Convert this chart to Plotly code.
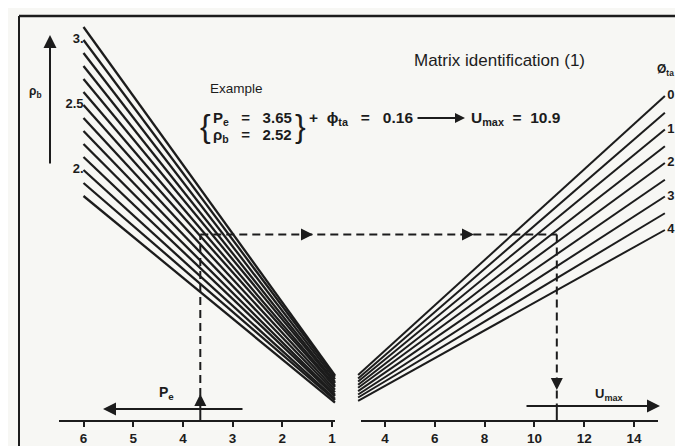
import plotly.graph_objects as go

W, H = 683, 446

# ---------------- data ----------------
rho_b_values = [3.1, 3.0, 2.9, 2.8, 2.7, 2.6, 2.5, 2.4, 2.3, 2.2, 2.1, 2.0, 1.9, 1.8]
rho_b_tip = [0.42, 0.41, 0.39, 0.37, 0.36, 0.34, 0.33, 0.31, 0.29, 0.27, 0.26, 0.24, 0.23, 0.21]
pe_fan_start = 6.0
pe_fan_end = 0.94

phi_ta_values = [0, 0.5, 1, 1.5, 2, 2.5, 3, 3.5, 4]
phi_ta_tip = [8.33, 8.43, 8.52, 8.62, 8.71, 8.81, 8.91, 9.00, 9.10]
u_fan_start = 2.92
u_fan_end = 15.24

pe_ticks = [1, 2, 3, 4, 5, 6]
u_ticks = [4, 6, 8, 10, 12, 14]
rho_b_label_vals = [3.0, 2.5, 2.0]
rho_b_label_text = ["3.", "2.5", "2."]
phi_label_vals = [0, 1, 2, 3, 4]

example_pe = 3.65
example_rho_b = 2.52
example_phi = 0.16
example_umax = 10.9

# ---------------- scale calibration (pixels) ----------------
PE1_PX, PE_PPU = 324.0, 49.7     # x pixel of Pe=1, px per unit (to the left)
U4_PX, U_PPU = 377.0, 24.9       # x pixel of Umax=4, px per unit
RB3_PX, RB_PPU = 32.0, 130.0     # y pixel of rho_b=3, px per unit (upwards)
PH0_PX, PH_PPU = 88.0, 33.5      # y pixel of phi=0, px per unit (downwards)
AXIS_PX = 413.0

pe_range = [1 + PE1_PX / PE_PPU, 1 - (W - PE1_PX) / PE_PPU]
u_range = [4 - U4_PX / U_PPU, 4 + (W - U4_PX) / U_PPU]
rb_range = [3 - (H - RB3_PX) / RB_PPU, 3 + RB3_PX / RB_PPU]
ph_range = [(H - PH0_PX) / PH_PPU, -PH0_PX / PH_PPU]


def pe_px(v):
    return PE1_PX - (v - 1) * PE_PPU


def px_pe(px):
    return 1 + (PE1_PX - px) / PE_PPU


def px_u(px):
    return 4 + (px - U4_PX) / U_PPU


def py_rb(py):
    return 3 - (py - RB3_PX) / RB_PPU


def py_ph(py):
    return (py - PH0_PX) / PH_PPU


INK = "#1c1c1c"
BG = "#f7f7f4"
FONT = "Liberation Sans"
NB = "\u00a0"

fig = go.Figure()

# ---------------- left fan (rho_b) ----------------
for r, tip in zip(rho_b_values, rho_b_tip):
    fig.add_trace(go.Scatter(x=[pe_fan_start, pe_fan_end], y=[r, tip], mode="lines",
                             line=dict(color=INK, width=2.3), xaxis="x", yaxis="y",
                             hoverinfo="skip", showlegend=False))

# ---------------- right fan (phi_ta) ----------------
for p, tip in zip(phi_ta_values, phi_ta_tip):
    fig.add_trace(go.Scatter(x=[u_fan_start, u_fan_end], y=[tip, p], mode="lines",
                             line=dict(color=INK, width=2.0), xaxis="x2", yaxis="y2",
                             hoverinfo="skip", showlegend=False))

# ---------------- example guide (dashed) ----------------
t = (pe_fan_start - example_pe) / (pe_fan_start - pe_fan_end)
lvl = [r + t * (tip - r) for r, tip in zip(rho_b_values, rho_b_tip)]
guide_y = lvl[0]
for i in range(len(rho_b_values) - 1):
    r_hi, r_lo = rho_b_values[i], rho_b_values[i + 1]
    if r_lo <= example_rho_b <= r_hi:
        f = (example_rho_b - r_lo) / (r_hi - r_lo)
        guide_y = lvl[i + 1] + f * (lvl[i] - lvl[i + 1])
        break

axis_y = py_rb(AXIS_PX)
arrowline_y = py_rb(401)
u_arrowline_y = py_rb(398)
u_from_pe = px_u(pe_px(example_pe))
dash = "8px,5px"


def seg(xs, ys, xa, ya, dashed=True):
    fig.add_trace(go.Scatter(x=xs, y=ys, mode="lines",
                             line=dict(color=INK, width=2, dash=dash if dashed else "solid"),
                             xaxis=xa, yaxis=ya, hoverinfo="skip", showlegend=False))


seg([example_pe, example_pe], [arrowline_y, guide_y], "x", "y")
seg([example_pe, example_pe], [axis_y, arrowline_y], "x", "y", dashed=False)
seg([u_from_pe, example_umax], [guide_y, guide_y], "x2", "y")
seg([example_umax, example_umax], [guide_y, u_arrowline_y], "x2", "y")
seg([example_umax, example_umax], [u_arrowline_y, axis_y], "x2", "y", dashed=False)

# ---------------- scale labels ----------------
fig.add_trace(go.Scatter(x=[pe_fan_start] * len(rho_b_label_vals), y=rho_b_label_vals,
                         mode="text", text=rho_b_label_text, textposition="middle left",
                         textfont=dict(family=FONT, size=13, color=INK, weight="bold"),
                         xaxis="x", yaxis="y", hoverinfo="skip", showlegend=False))
fig.add_trace(go.Scatter(x=[u_fan_end + 0.1] * len(phi_label_vals), y=phi_label_vals,
                         mode="text", text=[str(v) for v in phi_label_vals],
                         textposition="middle right",
                         textfont=dict(family=FONT, size=13, color=INK, weight="bold"),
                         xaxis="x2", yaxis="y2", hoverinfo="skip", showlegend=False))

# dummy traces so the bottom scales render
fig.add_trace(go.Scatter(x=[None], y=[None], xaxis="x3", yaxis="y", showlegend=False, hoverinfo="skip"))
fig.add_trace(go.Scatter(x=[None], y=[None], xaxis="x4", yaxis="y", showlegend=False, hoverinfo="skip"))

hidden = dict(visible=False, showgrid=False, zeroline=False, fixedrange=True)
axis_pos = 1 - AXIS_PX / H
tickfont = dict(family=FONT, size=13.5, color=INK, weight="bold")
bottom_axis = dict(anchor="free", position=axis_pos, showline=True, linecolor=INK, linewidth=2,
                   ticks="outside", ticklen=5, tickwidth=2, tickcolor=INK, tickfont=tickfont,
                   showgrid=False, zeroline=False, fixedrange=True)

fig.update_layout(
    width=W, height=H,
    margin=dict(l=0, r=0, t=0, b=0),
    paper_bgcolor=BG, plot_bgcolor="rgba(0,0,0,0)",
    showlegend=False,
    xaxis=dict(domain=[0, 1], range=pe_range, **hidden),
    xaxis2=dict(domain=[0, 1], range=u_range, overlaying="x", **hidden),
    yaxis=dict(domain=[0, 1], range=rb_range, **hidden),
    yaxis2=dict(domain=[0, 1], range=ph_range, overlaying="y", **hidden),
    xaxis3=dict(domain=[51 / W, 327 / W], range=[px_pe(51), px_pe(327)],
                tickvals=pe_ticks, ticktext=[str(v) for v in pe_ticks], **bottom_axis),
    xaxis4=dict(domain=[353 / W, 650 / W], range=[px_u(353), px_u(650)],
                tickvals=u_ticks, ticktext=[str(v) for v in u_ticks], **bottom_axis),
)


# ---------------- arrows ----------------
def arrow(xref, yref, x, y, ax, ay, size=1.3):
    fig.add_annotation(x=x, y=y, ax=ax, ay=ay, xref=xref, yref=yref, axref=xref, ayref=yref,
                       showarrow=True, arrowhead=2, arrowsize=size, arrowwidth=2,
                       arrowcolor=INK, text="")


arrow("x", "y", px_pe(42), py_rb(27), px_pe(42), py_rb(157))          # rho_b scale arrow
arrow("x2", "y2", px_u(677), py_ph(178), px_u(677), py_ph(53))       # phi_ta scale arrow
arrow("x", "y", px_pe(95), arrowline_y, px_pe(236), arrowline_y)      # Pe arrow
arrow("x2", "y", px_u(652), u_arrowline_y, px_u(517), u_arrowline_y)  # Umax arrow
arrow("x2", "y", px_u(457), py_rb(110), px_u(408), py_rb(110), size=1.0)  # example arrow


def small_head(xref, x, y, ax, ay):
    fig.add_annotation(x=x, y=y, xref=xref, yref="y", ax=ax, ay=ay, showarrow=True,
                       arrowhead=2, arrowsize=1.2, arrowwidth=2, arrowcolor=INK, text="")


small_head("x", example_pe, py_rb(386), 0, 10)
small_head("x2", px_u(305), guide_y, -12, 0)
small_head("x2", px_u(466), guide_y, -12, 0)
small_head("x2", example_umax, py_rb(382), 0, -10)


# ---------------- texts ----------------
def label(text, px, py, size=13, anchor="left", weight="normal"):
    fig.add_annotation(x=px / W, y=1 - py / H, xref="paper", yref="paper", text=text,
                       showarrow=False, xanchor=anchor, yanchor="middle", borderpad=0,
                       font=dict(family=FONT, size=size, color=INK, weight=weight))


EQ3 = f"{NB}{NB}{NB}={NB}{NB}{NB}"
EQ2 = f"{NB}{NB}={NB}{NB}"
label("Matrix identification (1)", 491, 52, size=17, anchor="center")
label("Example", 201, 81, size=13.5)
label("{", 197, 118, size=32, anchor="center")
label(f"P<sub>e</sub>{EQ3}{example_pe}", 204, 110, size=15, weight="bold")
label(f"ρ<sub>b</sub>{EQ3}{example_rho_b}", 204, 127, size=15, weight="bold")
label("}", 292, 118, size=32, anchor="center")
label(f"+{NB}{NB}ϕ<sub>ta</sub>{EQ3}{example_phi}", 300, 110, size=15.5, weight="bold")
label(f"U<sub>max</sub>{EQ2}{example_umax}", 462, 110, size=15.5, weight="bold")
label("ρ<sub>b</sub>", 27, 84, size=12, anchor="center", weight="bold")
label("Ø<sub>ta</sub>", 657, 62, size=12, anchor="center", weight="bold")
label("P<sub>e</sub>", 158, 385, size=14, anchor="center", weight="bold")
label("U<sub>max</sub>", 601, 386, size=13, anchor="center", weight="bold")

# ---------------- frame ----------------
for x0, y0, x1, y1, w in [(11, 8, W + 2, 8, 2.5), (11, 8, 11, 443, 2), (11, 443, W + 2, 443, 3)]:
    fig.add_shape(type="line", xref="paper", yref="paper", x0=x0 / W, x1=x1 / W,
                  y0=1 - y0 / H, y1=1 - y1 / H, line=dict(color=INK, width=w))

fig.write_html("out.html")
